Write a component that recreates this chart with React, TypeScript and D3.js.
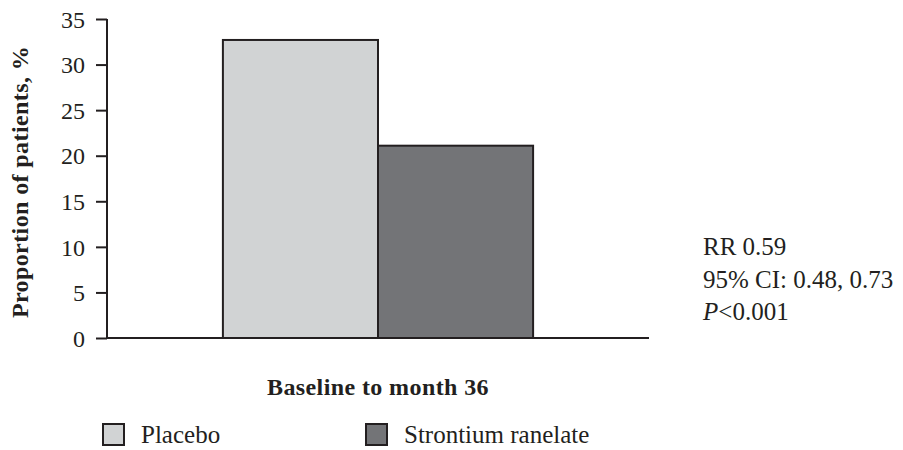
import React, { useEffect, useRef } from 'react';
import * as d3 from 'd3';

// data
const categories = ['Baseline to month 36'];
const seriesNames = ['Placebo', 'Strontium ranelate'];
const seriesValues = [32.7, 21.1];
const seriesColors = ['#d1d3d4', '#737477'];
const yTicks = [0, 5, 10, 15, 20, 25, 30, 35];
const statLines = ['RR 0.59', '95% CI: 0.48, 0.73', 'P<0.001'];

const FONT = '"Liberation Serif", "DejaVu Serif", serif';
const INK = '#231f20';

const App = () => {
  const ref = useRef<SVGSVGElement>(null);

  useEffect(() => {
    const svg = d3.select(ref.current);
    svg.selectAll('*').remove();

    const y = d3.scaleLinear().domain([0, 35]).range([338, 19]);
    const x = d3.scaleBand().domain(categories).range([107, 649]).padding(0.272);
    const xs = d3.scaleBand().domain(seriesNames).range([0, x.bandwidth()]);

    // bars
    svg.append('g')
      .selectAll('rect')
      .data(seriesValues)
      .enter().append('rect')
      .attr('x', (d, i) => (x(categories[0]) as number) + (xs(seriesNames[i]) as number))
      .attr('y', d => y(d))
      .attr('width', xs.bandwidth())
      .attr('height', d => y(0) - y(d))
      .attr('fill', (d, i) => seriesColors[i])
      .attr('stroke', INK)
      .attr('stroke-width', 2);

    // y axis
    const yAxis = svg.append('g')
      .attr('transform', 'translate(107,0)')
      .call(d3.axisLeft(y).tickValues(yTicks).tickSize(11).tickPadding(11));
    yAxis.select('.domain').attr('stroke', INK).attr('stroke-width', 2)
      .attr('d', `M0,${y(35)}H0V${y(0)}`);
    yAxis.selectAll('.tick line').attr('stroke', INK).attr('stroke-width', 2);
    yAxis.selectAll('.tick text')
      .attr('fill', INK)
      .attr('dy', '0.34em')
      .style('font-family', FONT)
      .style('font-size', '24px');

    // x axis (plain line, no ticks)
    svg.append('line')
      .attr('x1', 107).attr('x2', 649)
      .attr('y1', y(0)).attr('y2', y(0))
      .attr('stroke', INK).attr('stroke-width', 2);

    svg.append('text')
      .attr('x', x(categories[0])! + x.bandwidth() / 2)
      .attr('y', 395)
      .attr('text-anchor', 'middle')
      .attr('fill', INK)
      .style('font-family', FONT)
      .style('font-weight', 'bold')
      .style('font-size', '24px')
      .style('letter-spacing', '0.4px')
      .text(categories[0]);

    svg.append('text')
      .attr('transform', `translate(28,182) rotate(-90)`)
      .attr('text-anchor', 'middle')
      .attr('fill', INK)
      .style('font-family', FONT)
      .style('font-weight', 'bold')
      .style('font-size', '24px')
      .style('letter-spacing', '0.4px')
      .text('Proportion of patients, %');

    // stats
    const stats = svg.append('g')
      .style('font-family', FONT)
      .style('font-size', '25px')
      .attr('fill', INK);
    statLines.forEach((s, i) => {
      const t = stats.append('text').attr('x', 703).attr('y', 255 + i * 32.5);
      if (s.startsWith('P<')) {
        t.append('tspan').style('font-style', 'italic').text('P');
        t.append('tspan').text(s.slice(1));
      } else {
        t.text(s);
      }
    });

    // legend
    const legX = [102, 365];
    const leg = svg.append('g')
      .selectAll('g')
      .data(seriesNames)
      .enter().append('g')
      .attr('transform', (d, i) => `translate(${legX[i]},423)`);
    leg.append('rect')
      .attr('x', 1).attr('y', 1)
      .attr('width', 21).attr('height', 21)
      .attr('fill', (d, i) => seriesColors[i])
      .attr('stroke', INK).attr('stroke-width', 2);
    leg.append('text')
      .attr('x', 39).attr('y', 20)
      .attr('fill', INK)
      .style('font-family', FONT)
      .style('font-size', '25px')
      .text(d => d);
  }, []);

  return (
    <div style={{ position: 'absolute', left: 0, top: 0 }}>
      <svg ref={ref} width={903} height={450} style={{ display: 'block', background: '#fff' }} />
    </div>
  );
};

export default App;
